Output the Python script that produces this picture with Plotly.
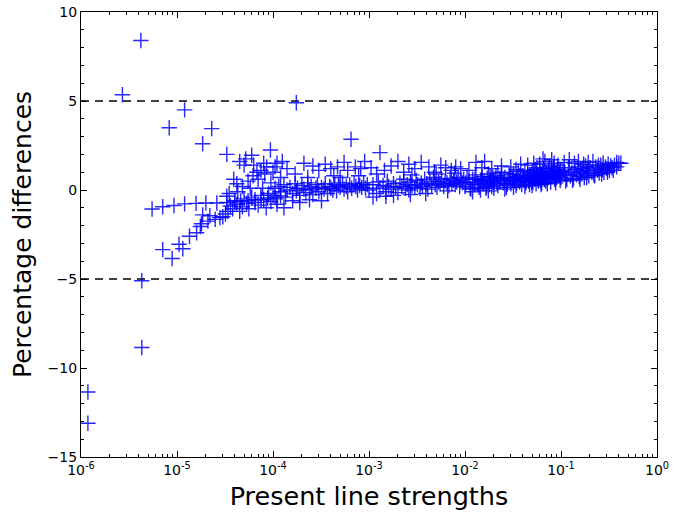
import plotly.graph_objects as go

# ---- data: present line strengths vs percentage differences ----
# outliers and sparse points at weak strengths
x_sparse = [1.18e-6, 1.18e-6, 2.7e-6, 4.2e-6, 4.3e-6, 4.3e-6, 1.2e-5, 8.3e-6, 2.3e-5, 1.85e-5,
            3.3e-5, 1.75e-4, 7.1e-6, 8.9e-6, 1.05e-5, 1.15e-5]
y_sparse = [-11.35, -13.1, 5.35, 8.4, -8.85, -5.1, 4.5, 3.5, 3.45, 2.6,
            2.0, 4.9, -3.35, -3.85, -3.05, -3.3]

# lower rising branch
x_lower = [1.35e-5, 1.6e-5, 1.75e-5, 1.85e-5, 1.8e-5, 2.1e-5, 2.2e-5, 2.5e-5, 2.8e-5, 3.0e-5,
           3.2e-5, 3.4e-5, 3.3e-5, 3.6e-5, 3.8e-5, 4.0e-5, 4.2e-5, 4.5e-5, 4.8e-5, 5.0e-5,
           5.3e-5, 5.6e-5, 6.0e-5, 6.5e-5, 7.0e-5, 7.5e-5, 8.0e-5, 8.5e-5, 9.0e-5, 9.5e-5]
y_lower = [-2.6, -2.4, -2.05, -1.4, -1.9, -1.75, -1.45, -1.65, -1.55, -1.5,
           -1.35, -1.2, -0.35, -0.9, -1.05, -0.6, -0.8, -1.2, -0.95, -0.5,
           -0.75, -1.05, -0.4, -0.7, -0.85, -0.3, -0.55, -1.0, -0.2, -0.65]

# upper flat branch
x_upper = [5.5e-6, 7.1e-6, 9.3e-6, 1.2e-5, 1.58e-5, 2.0e-5, 2.6e-5, 3.3e-5, 4.0e-5, 4.6e-5,
           5.5e-5, 6.5e-5, 7.5e-5, 8.8e-5, 1.05e-4, 1.2e-4]
y_upper = [-1.07, -0.94, -0.87, -0.78, -0.75, -0.73, -0.73, -0.7, -0.68, -0.62,
           -0.6, -0.55, -0.52, -0.45, -0.4, -0.33]

# scatter between 1e-5 and 1e-4
x_mid = [4.5e-5, 5.2e-5, 6.0e-5, 5.0e-5, 6.3e-5, 7.5e-5, 8.0e-5, 9.4e-5, 4.2e-5, 4.8e-5,
         3.9e-5, 5.5e-5, 6.2e-5, 7.0e-5, 8.2e-5, 9.5e-5, 3.5e-5, 4.3e-5, 7.8e-5, 6.8e-5,
         5.8e-5, 8.6e-5, 1.0e-4, 1.1e-4, 1.2e-4]
y_mid = [1.6, 1.75, 1.95, 1.4, 1.4, 1.1, 1.5, 2.25, 0.35, 0.2,
         0.6, 0.5, 0.8, 0.6, 0.9, 0.4, -0.2, -0.1, 0.1, 1.0,
         0.1, 1.3, 1.0, 1.5, 0.7]

# decade 1e-4 .. 1e-3
x_d4 = [1.0e-4, 1.05e-4, 1.1e-4, 1.15e-4, 1.2e-4, 1.3e-4, 1.35e-4, 1.4e-4, 1.5e-4, 1.6e-4,
        1.7e-4, 1.75e-4, 1.8e-4, 1.9e-4, 2.0e-4, 2.1e-4, 2.2e-4, 2.3e-4, 2.4e-4, 2.5e-4,
        2.6e-4, 2.8e-4, 2.9e-4, 3.0e-4, 3.2e-4, 3.4e-4, 3.5e-4, 3.7e-4, 3.9e-4, 4.0e-4,
        4.2e-4, 4.4e-4, 4.6e-4, 4.8e-4, 5.0e-4, 5.3e-4, 5.5e-4, 5.8e-4, 6.0e-4, 6.3e-4,
        6.6e-4, 7.0e-4, 7.3e-4, 7.6e-4, 8.0e-4, 8.4e-4, 8.8e-4, 9.2e-4, 9.6e-4,
        1.3e-4, 1.1e-4, 1.6e-4, 2.4e-4, 3.2e-4, 1.9e-4,
        1.05e-4, 1.25e-4, 1.4e-4, 1.7e-4, 2.1e-4, 2.6e-4, 3.0e-4, 3.5e-4, 4.0e-4, 4.3e-4,
        4.7e-4, 5.5e-4, 6.0e-4, 6.5e-4, 7.2e-4, 8.2e-4, 9.0e-4, 2.3e-4, 5.0e-4, 7.8e-4]
y_d4 = [-0.3, 0.1, -0.5, 0.2, -0.1, 0.3, -0.4, 0.0, 0.15, -0.2,
        0.35, -0.05, 0.1, -0.3, 0.25, 0.05, -0.15, 0.4, 0.0, 0.2,
        -0.25, 0.1, 0.3, -0.1, 0.15, 0.05, 0.35, -0.2, 0.2, 0.1,
        0.0, 0.3, -0.05, 0.25, 0.15, 0.4, 0.05, 0.2, -0.1, 0.3,
        0.1, 0.35, 0.2, 0.0, 0.25, 0.15, 0.4, 0.1, 0.3,
        -1.0, -0.8, -0.6, -0.55, -0.6, -0.7,
        1.3, 1.6, 1.2, 0.9, 1.5, 1.35, 1.1, 1.45, 1.2, 0.8,
        1.3, 1.55, 1.1, 2.85, 1.3, 1.2, 1.6, 0.7, 0.7, 0.8]

# decade 1e-3 .. 1e-2
x_d3 = [1.0e-3, 1.1e-3, 1.2e-3, 1.25e-3, 1.3e-3, 1.4e-3, 1.5e-3, 1.55e-3, 1.6e-3, 1.7e-3,
        1.8e-3, 1.9e-3, 2.0e-3, 2.1e-3, 2.2e-3, 2.3e-3, 2.4e-3, 2.5e-3, 2.6e-3, 2.7e-3,
        2.8e-3, 3.0e-3, 3.1e-3, 3.2e-3, 3.4e-3, 3.5e-3, 3.6e-3, 3.8e-3, 4.0e-3, 4.1e-3,
        4.3e-3, 4.5e-3, 4.7e-3, 4.9e-3, 5.1e-3, 5.3e-3, 5.5e-3, 5.7e-3, 6.0e-3, 6.2e-3,
        6.5e-3, 6.8e-3, 7.0e-3, 7.3e-3, 7.6e-3, 7.9e-3, 8.2e-3, 8.5e-3, 8.8e-3, 9.1e-3,
        9.4e-3, 9.7e-3,
        1.05e-3, 1.3e-3, 1.45e-3, 1.7e-3, 2.0e-3, 2.3e-3, 2.6e-3, 3.0e-3, 3.5e-3, 4.2e-3,
        4.8e-3, 5.6e-3, 6.3e-3, 7.2e-3, 8.0e-3, 9.0e-3, 1.2e-3, 2.8e-3, 5.0e-3, 7.8e-3,
        1.1e-3, 1.8e-3, 2.7e-3, 3.9e-3, 6.6e-3, 1.5e-3]
y_d3 = [0.0, 0.3, -0.2, 0.45, 0.1, 0.25, -0.1, 0.5, 0.2, 0.05,
        0.35, 0.15, -0.15, 0.4, 0.2, 0.6, 0.1, 0.3, 0.0, 0.45,
        0.25, 0.15, 0.55, 0.3, 0.1, 0.4, 0.2, 0.6, 0.35, 0.05,
        0.5, 0.25, 0.7, 0.3, 0.15, 0.45, 0.35, 0.6, 0.2, 0.5,
        0.4, 0.25, 0.65, 0.35, 0.55, 0.3, 0.45, 0.7, 0.2, 0.5,
        0.4, 0.6,
        1.25, 2.1, 1.1, 1.35, 1.6, 1.0, 1.45, 1.2, 1.55, 1.3,
        1.0, 1.4, 1.25, 1.1, 1.3, 1.2, 0.9, 0.85, 0.9, 0.95,
        -0.4, -0.3, -0.25, -0.2, -0.05, -0.35]

# decade 1e-2 .. 1e-1
x_d2 = [1.0e-2, 1.05e-2, 1.1e-2, 1.15e-2, 1.2e-2, 1.25e-2, 1.3e-2, 1.35e-2, 1.4e-2, 1.45e-2,
        1.5e-2, 1.55e-2, 1.6e-2, 1.65e-2, 1.7e-2, 1.75e-2, 1.8e-2, 1.85e-2, 1.9e-2, 1.95e-2,
        2.0e-2, 2.1e-2, 2.2e-2, 2.3e-2, 2.4e-2, 2.5e-2, 2.6e-2, 2.7e-2, 2.8e-2, 2.9e-2,
        3.0e-2, 3.1e-2, 3.2e-2, 3.3e-2, 3.4e-2, 3.5e-2, 3.6e-2, 3.7e-2, 3.8e-2, 3.9e-2,
        4.0e-2, 4.1e-2, 4.2e-2, 4.3e-2, 4.4e-2, 4.5e-2, 4.6e-2, 4.7e-2, 4.8e-2, 4.9e-2,
        5.0e-2, 5.1e-2, 5.2e-2, 5.3e-2, 5.4e-2, 5.5e-2, 5.6e-2, 5.7e-2, 5.8e-2, 5.9e-2,
        6.0e-2, 6.1e-2, 6.2e-2, 6.3e-2, 6.4e-2, 6.5e-2, 6.6e-2, 6.7e-2, 6.8e-2, 6.9e-2,
        7.0e-2, 7.2e-2, 7.4e-2, 7.6e-2, 7.8e-2, 8.0e-2, 8.2e-2, 8.4e-2, 8.6e-2, 8.8e-2,
        9.0e-2, 9.2e-2, 9.4e-2, 9.6e-2, 9.8e-2,
        1.02e-2, 1.13e-2, 1.27e-2, 1.38e-2, 1.52e-2, 1.68e-2, 1.82e-2, 1.98e-2, 2.15e-2, 2.35e-2,
        2.55e-2, 2.75e-2, 2.95e-2, 3.15e-2, 3.45e-2, 3.75e-2, 4.05e-2, 4.35e-2, 4.65e-2, 4.95e-2,
        5.25e-2, 5.55e-2, 5.85e-2, 6.15e-2, 6.45e-2, 6.75e-2, 7.1e-2, 7.5e-2, 7.9e-2, 8.3e-2,
        8.7e-2, 9.1e-2, 9.5e-2, 9.9e-2,
        1.1e-2, 1.3e-2, 1.6e-2, 1.9e-2, 2.4e-2, 3.0e-2, 3.8e-2, 4.5e-2, 5.2e-2, 6.0e-2,
        6.8e-2, 7.6e-2, 8.5e-2, 9.3e-2, 1.5e-2, 2.2e-2, 3.4e-2, 5.6e-2, 6.5e-2, 8.0e-2,
        1.2e-2, 1.45e-2, 1.75e-2, 2.0e-2, 2.6e-2, 3.2e-2, 4.2e-2, 5.0e-2, 6.2e-2, 7.2e-2,
        8.8e-2]
y_d2 = [0.2, 0.7, 0.45, 0.05, 0.6, 0.3, 0.85, 0.4, 0.15, 0.55,
        0.75, 0.35, 0.5, 0.1, 0.65, 0.9, 0.3, 0.55, 0.2, 0.7,
        0.45, 0.8, 0.25, 0.6, 1.0, 0.4, 0.7, 0.15, 0.55, 0.85,
        0.35, 0.65, 0.9, 0.5, 0.25, 0.75, 1.05, 0.45, 0.6, 0.3,
        0.8, 0.55, 1.1, 0.4, 0.7, 0.95, 0.5, 0.3, 0.85, 0.65,
        1.0, 0.45, 0.75, 0.6, 1.15, 0.35, 0.9, 0.7, 0.5, 0.8,
        1.05, 0.55, 0.85, 0.4, 0.95, 0.7, 1.2, 0.6, 0.8, 0.5,
        0.9, 0.65, 1.1, 0.75, 0.45, 1.0, 0.85, 1.25, 0.6, 0.95,
        0.7, 1.15, 0.8, 1.0, 0.55,
        0.4, 0.1, 0.6, 0.3, 0.5, 0.2, 0.75, 0.45, 0.35, 0.65,
        0.5, 0.3, 0.7, 0.55, 0.4, 0.8, 0.6, 0.5, 0.75, 0.45,
        0.85, 0.65, 0.55, 0.9, 0.7, 0.6, 0.95, 0.75, 0.8, 1.0,
        0.7, 0.9, 0.85, 1.05,
        1.1, 1.55, 1.6, 1.2, 1.35, 1.3, 1.45, 1.4, 1.5, 1.45,
        1.6, 1.35, 1.5, 1.4, 1.25, 0.95, 1.15, 1.25, 1.75, 1.7,
        -0.1, 0.0, -0.05, 0.1, 0.05, 0.15, 0.2, 0.25, 0.3, 0.35,
        0.4]

# decade 1e-1 .. 0.42
x_d1 = [1.0e-1, 1.05e-1, 1.1e-1, 1.15e-1, 1.2e-1, 1.25e-1, 1.3e-1, 1.35e-1, 1.4e-1, 1.45e-1,
        1.5e-1, 1.55e-1, 1.6e-1, 1.65e-1, 1.7e-1, 1.75e-1, 1.8e-1, 1.85e-1, 1.9e-1, 1.95e-1,
        2.0e-1, 2.1e-1, 2.2e-1, 2.3e-1, 2.4e-1, 2.5e-1, 2.6e-1, 2.7e-1, 2.8e-1, 2.9e-1,
        3.0e-1, 3.1e-1, 3.2e-1, 3.3e-1, 3.4e-1, 3.6e-1, 3.8e-1, 4.0e-1,
        1.08e-1, 1.22e-1, 1.38e-1, 1.52e-1, 1.72e-1, 1.92e-1, 2.15e-1, 2.45e-1, 2.75e-1,
        1.12e-1, 1.32e-1, 1.58e-1, 1.85e-1, 2.25e-1, 2.65e-1, 3.05e-1, 3.5e-1, 4.2e-1, 3.8e-1]
y_d1 = [0.7, 1.1, 0.9, 0.6, 1.25, 0.8, 1.0, 0.65, 1.15, 0.85,
        1.3, 0.75, 1.05, 0.9, 1.2, 0.7, 1.35, 0.95, 1.1, 0.8,
        1.25, 1.0, 0.85, 1.3, 1.1, 0.95, 1.4, 1.15, 1.0, 1.3,
        1.2, 1.45, 1.1, 1.35, 1.25, 1.4, 1.3, 1.5,
        1.55, 1.7, 1.5, 1.6, 1.45, 1.55, 1.6, 1.4, 1.5,
        0.5, 0.55, 0.6, 0.7, 0.8, 0.9, 1.0, 1.1, 1.5, 1.55]

strengths = x_sparse + x_lower + x_upper + x_mid + x_d4 + x_d3 + x_d2 + x_d1
differences = y_sparse + y_lower + y_upper + y_mid + y_d4 + y_d3 + y_d2 + y_d1

x_ticks = [1e-6, 1e-5, 1e-4, 1e-3, 1e-2, 1e-1, 1]
x_tick_text = ["10<sup>-6</sup>", "10<sup>-5</sup>", "10<sup>-4</sup>", "10<sup>-3</sup>",
               "10<sup>-2</sup>", "10<sup>-1</sup>", "10<sup>0</sup>"]
y_ticks = [-15, -10, -5, 0, 5, 10]
y_tick_text = ["\u221215", "\u221210", "\u22125", "0", "5", "10"]
threshold_lines = [5, -5]

fig = go.Figure()
fig.add_trace(go.Scatter(
    x=strengths, y=differences, mode="markers",
    marker=dict(symbol="cross-thin", size=11, color="rgba(0,0,255,0.85)",
                line=dict(width=1.4, color="rgba(0,0,255,0.85)")),
    showlegend=False, cliponaxis=False,
))

for yv in threshold_lines:
    fig.add_shape(type="line", xref="paper", x0=0, x1=1, yref="y", y0=yv, y1=yv,
                  line=dict(color="black", width=1.3, dash="8px,6px"), layer="below")

axis_common = dict(showline=True, linecolor="black", linewidth=1.3, mirror="allticks",
                   ticks="inside", ticklen=6, tickwidth=1, tickcolor="black",
                   showgrid=False, zeroline=False, automargin=False,
                   tickfont=dict(family="DejaVu Sans", size=14, color="black"))

fig.update_xaxes(type="log", range=[-6, 0], tickvals=x_ticks, ticktext=x_tick_text,
                 minor=dict(ticks="inside", ticklen=3, tickwidth=1, tickcolor="black",
                            dtick="D1", showgrid=False),
                 title=dict(text="Present line strengths",
                            font=dict(family="DejaVu Sans", size=25.5, color="black"),
                            standoff=10),
                 **axis_common)
fig.update_yaxes(range=[-15, 10], tickvals=y_ticks, ticktext=y_tick_text,
                 minor=dict(ticks="inside", ticklen=3, tickwidth=1, tickcolor="black",
                            dtick=1, showgrid=False),
                 title=dict(text="Percentage differences",
                            font=dict(family="DejaVu Sans", size=25, color="black"),
                            standoff=8),
                 **axis_common)

fig.update_layout(width=685, height=516, margin=dict(l=81, r=28, t=12, b=59),
                  plot_bgcolor="white", paper_bgcolor="white")

fig.write_html("out.html")
